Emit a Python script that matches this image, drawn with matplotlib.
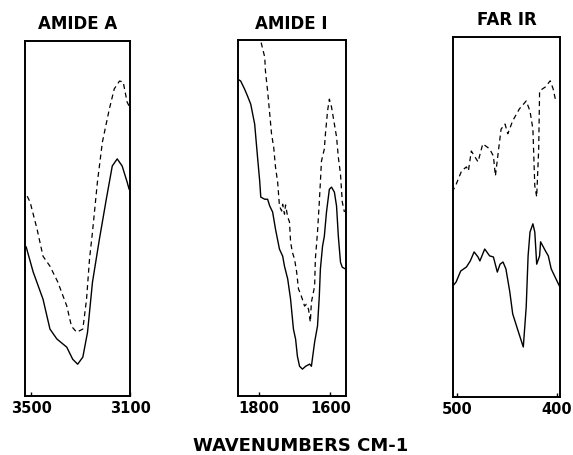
import matplotlib
matplotlib.use('Agg')
import matplotlib.pyplot as plt
import numpy as np

plt.rcParams['font.family'] = ['DejaVu Sans']

# amide A region (wavenumber, transmittance-ish %)
amA_solid_x = [3520, 3492, 3452, 3424, 3396, 3356, 3332, 3312, 3291, 3272, 3252,
               3224, 3196, 3172, 3152, 3132, 3112, 3104]
amA_solid_y = [42, 35, 27.3, 18.9, 16.1, 13.8, 10.4, 9.0, 11.0, 18.0, 32.1,
               44.2, 55.5, 64.8, 66.8, 64.8, 60.3, 58.3]
amA_dash_x = [3516, 3504, 3476, 3452, 3424, 3392, 3356, 3337, 3316, 3291, 3276,
              3264, 3252, 3232, 3212, 3184, 3164, 3143, 3128, 3112, 3104]
amA_dash_y = [56.3, 54.6, 47.0, 39.4, 36.6, 32.1, 25.4, 19.7, 18.0, 18.9, 27.3,
              38.6, 46.2, 60.3, 71.5, 80.8, 86.5, 88.7, 88.5, 82.8, 81.7]

# amide I region
am1_solid_x = [1858, 1850, 1839, 1831, 1822, 1811, 1803, 1797, 1794, 1783, 1775,
               1769, 1761, 1753, 1742, 1733, 1728, 1719, 1711, 1703, 1697, 1692,
               1686, 1678, 1669, 1658, 1653, 1644, 1636, 1631, 1628, 1622, 1617,
               1611, 1603, 1597, 1589, 1583, 1578, 1572, 1567, 1558]
am1_solid_y = [89.0, 88.5, 86.2, 84.3, 82.0, 76.4, 67.1, 60.4, 55.9, 55.3, 55.3,
               53.4, 51.7, 46.9, 41.3, 39.3, 36.5, 32.9, 27.2, 18.8, 16.0, 11.2,
               8.4, 7.6, 8.4, 9.0, 8.4, 15.2, 19.7, 28.1, 35.7, 42.1, 44.9,
               51.7, 58.1, 58.7, 57.3, 53.4, 44.9, 37.6, 36.2, 35.7]
am1_dash_x = [1797, 1794, 1783, 1781, 1775, 1769, 1764, 1758, 1753, 1747, 1742,
              1736, 1733, 1728, 1725, 1719, 1714, 1711, 1706, 1700, 1694, 1689,
              1683, 1672, 1667, 1661, 1656, 1653, 1644, 1642, 1636, 1631, 1628,
              1625, 1617, 1614, 1608, 1603, 1597, 1589, 1583, 1578, 1572, 1567, 1561]
am1_dash_y = [101.7, 99.7, 95.2, 91.3, 85.7, 79.2, 73.6, 69.9, 64.3, 60.1, 53.4,
              52.0, 53.9, 51.1, 53.7, 50.3, 48.9, 43.3, 40.4, 38.5, 34.8, 30.1,
              28.7, 25.3, 25.8, 24.4, 20.8, 26.4, 30.9, 38.5, 46.1, 54.5, 60.1,
              66.0, 69.4, 73.6, 80.1, 83.4, 81.2, 76.4, 72.8, 67.1, 62.4, 54.5, 51.7]

# far IR region
far_solid_x = [505, 501, 496.3, 490.6, 486.7, 482.9, 479, 477.1, 472.3, 467.4,
               463.6, 459.7, 456.9, 454, 451.1, 447.2, 444.3, 438.6, 433.7, 430.8,
               428.9, 427, 424.1, 422.2, 420.3, 417.4, 416.4, 411.6, 408.7, 405.8,
               401, 397.5]
far_solid_y = [30.6, 31.9, 35.0, 36.1, 37.8, 40.3, 38.9, 37.8, 41.1, 39.2, 38.9,
               34.7, 36.9, 37.5, 35.6, 29.2, 23.1, 18.1, 13.9, 25.0, 39.2, 45.8,
               48.1, 45.8, 36.9, 39.2, 43.1, 40.6, 39.2, 35.6, 32.8, 30.8]
far_dash_x = [505, 501.1, 495.4, 490.6, 488.6, 485.7, 479, 474.2, 467.4, 463.6,
              461.6, 458.7, 455.9, 452, 449.2, 444.3, 437.6, 430.8, 427, 424.1,
              422.2, 420.3, 418.3, 417.4, 411.6, 406.8, 403.9, 401]
far_dash_y = [56.9, 58.9, 62.8, 63.9, 62.8, 68.3, 65.3, 70.3, 68.9, 66.9, 61.4,
              68.1, 74.4, 75.8, 73.1, 76.7, 80.0, 82.2, 79.4, 74.4, 58.6, 55.6,
              68.9, 85.0, 86.1, 87.8, 85.6, 81.9]

titles = ['AMIDE A', 'AMIDE I', 'FAR IR']
xlims = [(3524, 3104), (1858, 1558), (504, 397)]
ticks = [[3500, 3100], [1800, 1600], [500, 400]]
boxes = [[0.044, 0.129, 0.183, 0.779],
         [0.415, 0.129, 0.188, 0.781],
         [0.7906, 0.127, 0.1867, 0.790]]
data = [(amA_solid_x, amA_solid_y, amA_dash_x, amA_dash_y),
        (am1_solid_x, am1_solid_y, am1_dash_x, am1_dash_y),
        (far_solid_x, far_solid_y, far_dash_x, far_dash_y)]

fig = plt.figure(figsize=(5.73, 4.56), dpi=100)

for box, title, xl, tk, (sx, sy, dx, dy) in zip(boxes, titles, xlims, ticks, data):
    ax = fig.add_axes(box)
    ax.plot(sx, sy, color='black', lw=1.0)
    ax.plot(dx, dy, color='black', lw=0.9, ls=(0, (4, 3)))
    ax.set_xlim(*xl)
    ax.set_ylim(0, 100)
    ax.set_xticks(tk)
    ax.set_xticklabels([str(t) for t in tk], fontsize=10.5, fontweight='bold')
    ax.set_yticks([])
    ax.tick_params(axis='x', direction='in', length=3, width=1, pad=3)
    for sp in ax.spines.values():
        sp.set_linewidth(1.4)
    ax.set_title(title, fontsize=12, fontweight='bold', pad=9)

fig.text(0.524, 0.021, 'WAVENUMBERS CM-1', ha='center', va='center',
         fontsize=13, fontweight='bold')

fig.savefig('out.png', dpi=100)
